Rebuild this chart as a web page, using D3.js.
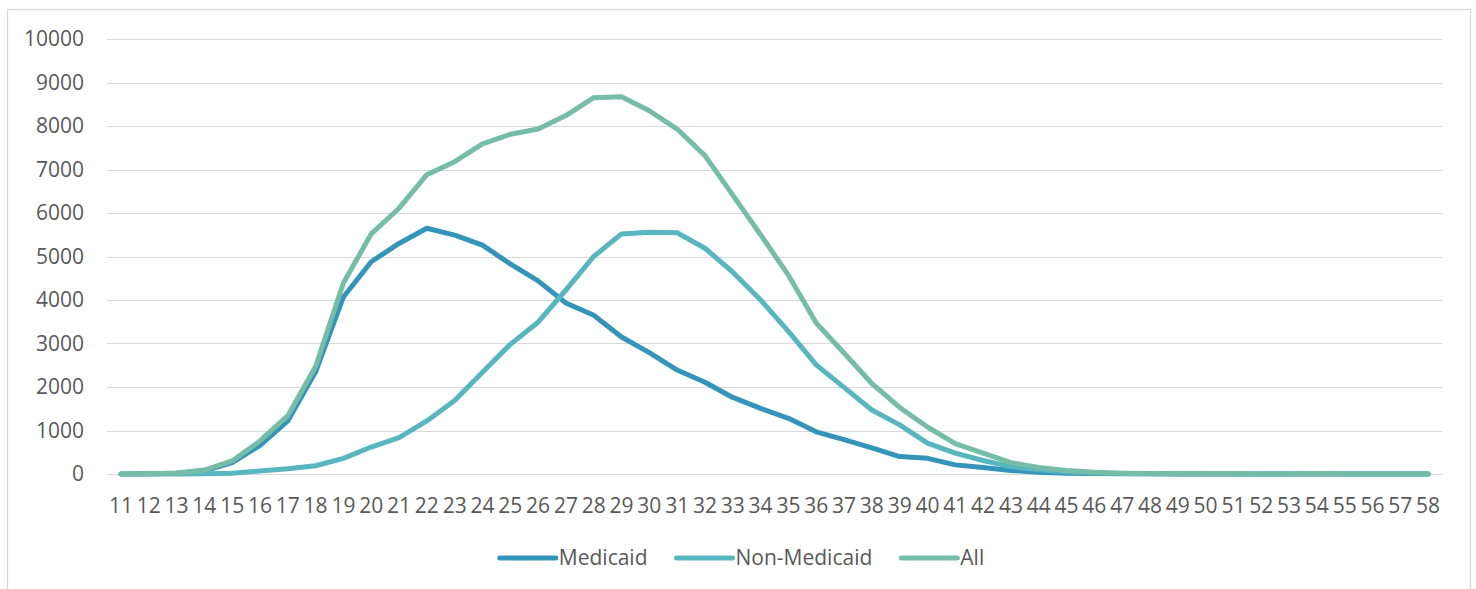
<!DOCTYPE html>
<html>
<head>
<meta charset="utf-8">
<script src="https://cdn.jsdelivr.net/npm/d3@7"></script>
<style>
  body { margin: 0; background: #fff; }
  svg { display: block; }
  .grid line { stroke: #d9d9d9; stroke-width: 1; shape-rendering: crispEdges; }
  .tick-label, .legend-label { font-family: "Open Sans", sans-serif; font-size: 21px; fill: #595959; }
</style>
</head>
<body>
<svg width="1476" height="589"></svg>
<script>
// ages on the x axis
const ages = [11, 12, 13, 14, 15, 16, 17, 18, 19, 20, 21, 22, 23, 24, 25, 26, 27, 28, 29, 30,
  31, 32, 33, 34, 35, 36, 37, 38, 39, 40, 41, 42, 43, 44, 45, 46, 47, 48, 49, 50,
  51, 52, 53, 54, 55, 56, 57, 58];

const medicaid = [0, 5, 20, 70, 260, 660, 1220, 2350, 4070, 4880, 5300, 5650, 5490, 5260, 4830, 4440, 3930, 3650, 3150, 2790,
  2390, 2110, 1760, 1510, 1280, 970, 790, 600, 400, 360, 210, 150, 80, 40, 20, 10, 5, 3, 2, 1,
  1, 0, 0, 0, 0, 0, 0, 0];

const nonMedicaid = [0, 0, 2, 5, 15, 70, 120, 190, 360, 620, 835, 1220, 1690, 2340, 2980, 3490, 4230, 5000, 5520, 5555,
  5545, 5190, 4640, 4000, 3280, 2510, 1990, 1470, 1130, 710, 480, 310, 170, 95, 50, 25, 12, 6, 4, 3,
  2, 1, 1, 3, 1, 1, 1, 1];

const all = [0, 5, 22, 90, 300, 760, 1340, 2470, 4390, 5520, 6110, 6880, 7180, 7590, 7810, 7930, 8240, 8650, 8670, 8350,
  7930, 7320, 6410, 5500, 4570, 3470, 2780, 2080, 1530, 1080, 700, 480, 260, 150, 80, 40, 20, 10, 7, 5,
  3, 2, 2, 4, 2, 2, 2, 2];

const yTicks = [0, 1000, 2000, 3000, 4000, 5000, 6000, 7000, 8000, 9000, 10000];

const seriesNames = ["Medicaid", "Non-Medicaid", "All"];
const seriesColors = ["#3494ba", "#58b6c0", "#75bda7"];
const seriesValues = [medicaid, nonMedicaid, all];

const svg = d3.select("svg");

// outer chart border
svg.append("rect")
  .attr("x", 7.5).attr("y", 9.5)
  .attr("width", 1463).attr("height", 600)
  .attr("fill", "#fff")
  .attr("stroke", "#d9d9d9")
  .attr("stroke-width", 1.3);

const x = d3.scalePoint()
  .domain(ages)
  .range([107, 1442])
  .padding(0.5);

const y = d3.scaleLinear()
  .domain([0, 10000])
  .range([474, 39]);

// gridlines
svg.append("g")
  .attr("class", "grid")
  .selectAll("line")
  .data(yTicks)
  .enter()
  .append("line")
  .attr("x1", 107)
  .attr("x2", 1442)
  .attr("y1", d => Math.round(y(d)) + 0.5)
  .attr("y2", d => Math.round(y(d)) + 0.5);

// y tick labels
svg.append("g")
  .selectAll("text")
  .data(yTicks)
  .enter()
  .append("text")
  .attr("class", "tick-label")
  .attr("x", 84)
  .attr("y", d => y(d))
  .attr("dy", "0.35em")
  .attr("text-anchor", "end")
  .text(d => d);

// x tick labels
svg.append("g")
  .selectAll("text")
  .data(ages)
  .enter()
  .append("text")
  .attr("class", "tick-label")
  .attr("x", d => x(d))
  .attr("y", 513)
  .attr("text-anchor", "middle")
  .text(d => d);

const line = d3.line()
  .x((d, i) => x(ages[i]))
  .y(d => y(d));

seriesValues.forEach((vals, i) => {
  svg.append("path")
    .datum(vals)
    .attr("fill", "none")
    .attr("stroke", seriesColors[i])
    .attr("stroke-width", 5)
    .attr("stroke-linejoin", "round")
    .attr("stroke-linecap", "round")
    .attr("d", line);
});

// legend
const legend = svg.append("g");
let cursor = 0;
const itemGap = 29, swatch = 56, textGap = 3;
seriesNames.forEach((name, i) => {
  const item = legend.append("g").attr("transform", `translate(${cursor},0)`);
  item.append("line")
    .attr("x1", 0).attr("x2", swatch)
    .attr("y1", 0).attr("y2", 0)
    .attr("stroke", seriesColors[i])
    .attr("stroke-width", 5)
    .attr("stroke-linecap", "round");
  const t = item.append("text")
    .attr("class", "legend-label")
    .attr("x", swatch + textGap)
    .attr("y", 0)
    .attr("dy", "0.35em")
    .text(name);
  cursor += swatch + textGap + t.node().getComputedTextLength() + itemGap;
});
const legendWidth = cursor - itemGap;
legend.attr("transform", `translate(${742 - legendWidth / 2},558)`);
</script>
</body>
</html>
